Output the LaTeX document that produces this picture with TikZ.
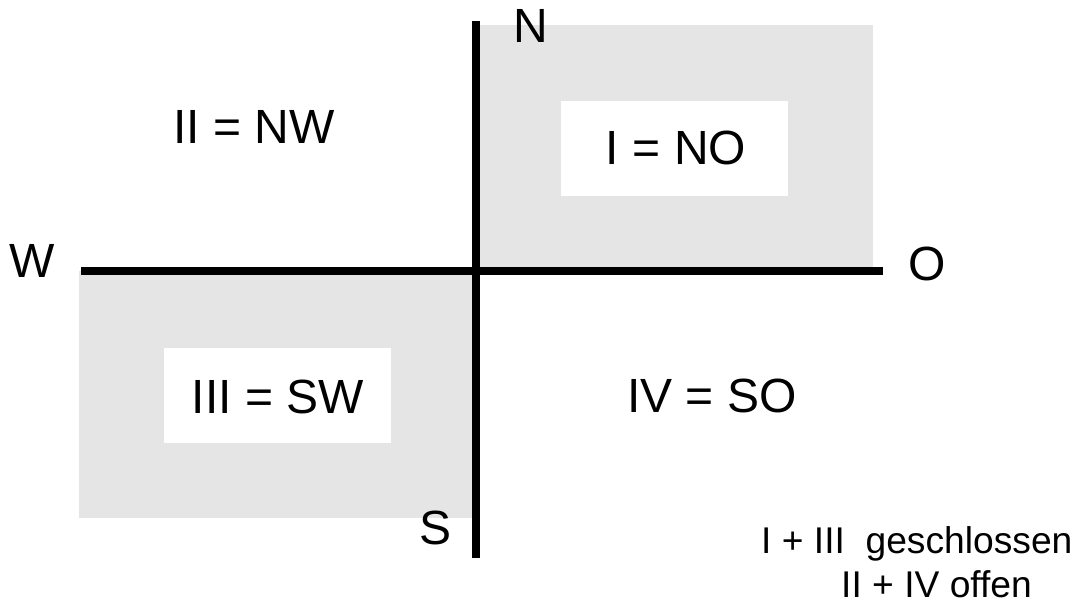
\documentclass[tikz,border=0pt]{standalone}
\usepackage{fontspec}
\setmainfont{Liberation Sans}
\definecolor{quadgray}{RGB}{229,229,229}
\begin{document}
\begin{tikzpicture}[x=1pt,y=-1pt,
  quad/.style={fill=quadgray,draw=none},
  labelbox/.style={fill=white,draw=none},
  axis/.style={line width=7.5pt,black},
  big/.style={inner sep=0pt,anchor=base,font=\fontsize{48}{56}\selectfont},
  small/.style={inner sep=0pt,anchor=base west,font=\fontsize{37.2}{44}\selectfont}]
\useasboundingbox (0,0) rectangle (1078,602);
% shaded quadrants
\fill[quad] (476,25) rectangle (873,271);
\fill[quad] (79,271) rectangle (476,518);
% white label boxes
\fill[labelbox] (561,101) rectangle (788,196);
\fill[labelbox] (164,348) rectangle (391,443);
% axes
\coordinate (top) at (476,21);
\coordinate (bottom) at (476,558);
\coordinate (left) at (81,271);
\coordinate (right) at (883,271);
\draw[axis] (left) -- (right);
\draw[axis] (top) -- (bottom);
% direction letters
\node[big] (n) at (531,43) {N};
\node[big] (w) at (32,277) {W};
\node[big] (o) at (927,280) {O};
\node[big] (s) at (436,544) {S};
% quadrant labels
\node[big] (q1) at (676,164) {I = NO};
\node[big] (q2) at (254,143) {II = NW};
\node[big] (q3) at (278,413) {III = SW};
\node[big] (q4) at (712,412) {IV = SO};
% notes
\node[small] (note1) at (761,553) {I + III~~geschlossen};
\node[small] (note2) at (841,597.5) {II + IV offen};
\end{tikzpicture}
\end{document}
